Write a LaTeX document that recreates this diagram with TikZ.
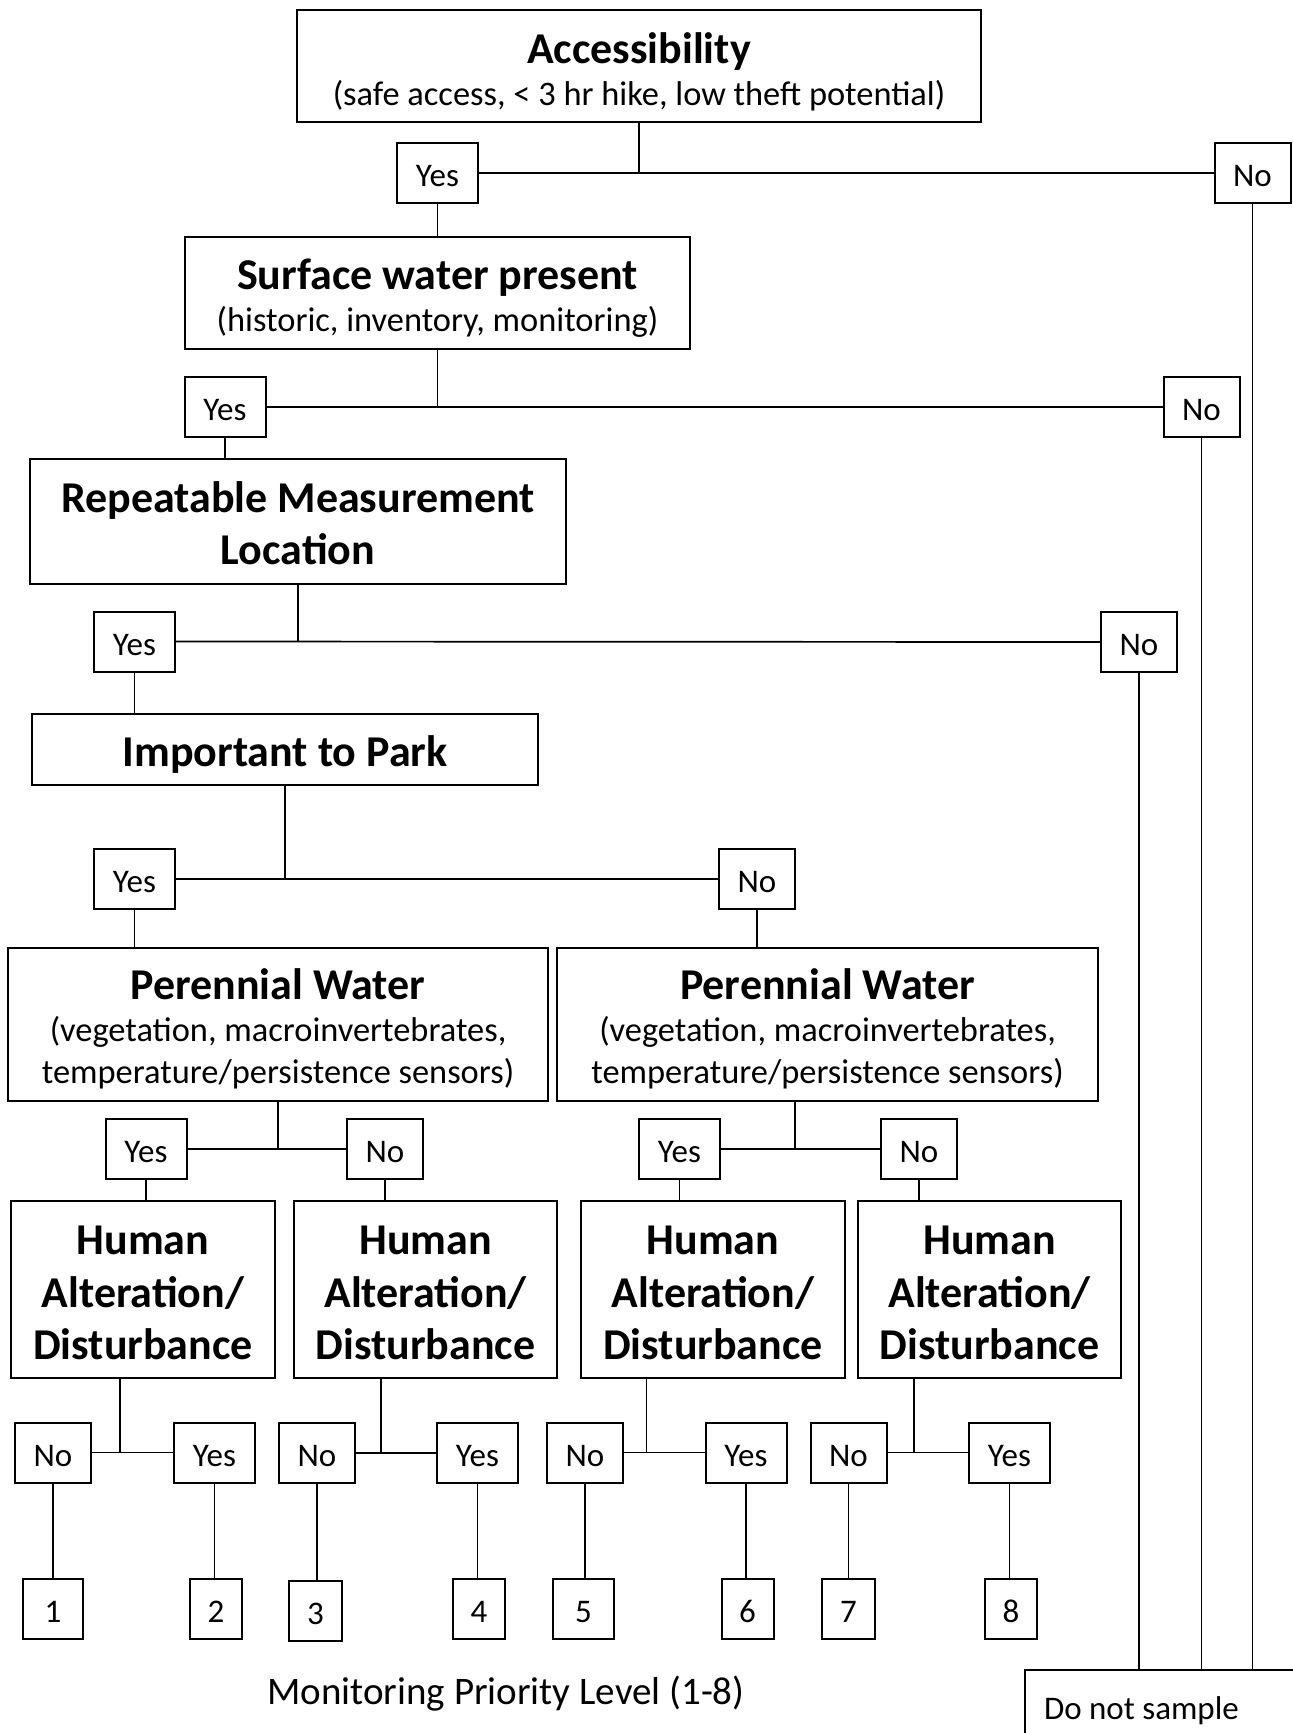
\documentclass[tikz,border=0pt]{standalone}
\usepackage{fontspec}
\setmainfont{Carlito}
\newcommand\bigb{\fontsize{44}{52.5}\selectfont\bfseries}
\newcommand\regf{\fontsize{34.4}{42}\selectfont}
\newcommand\ynf{\fontsize{33}{40}\selectfont}
\newcommand\mplf{\fontsize{39}{46}\selectfont}
\newcommand\strt[1]{\rule{0pt}{#1pt}}
\tikzset{
  box/.style={draw, line width=2pt, inner sep=0pt, align=center},
  yn/.style={draw, line width=2pt, minimum height=60pt, inner sep=0pt, font=\ynf,
             text height=27pt, text depth=0pt},
  yesbox/.style={yn, minimum width=81pt},
  nobox/.style={yn, minimum width=76pt},
  numbox/.style={yn},
  ln/.style={line width=1.7pt},
}
\begin{document}
\begin{tikzpicture}[x=1pt,y=-1pt]
\path[use as bounding box, fill=white] (0,0) rectangle (1293,1733);
\clip (0,0) rectangle (1293,1733);

% main boxes
\node[box, minimum width=684pt, minimum height=112pt, font=\regf] (acc) at (639,66)
  {{\bigb\strt{42}Accessibility}\\(safe access, < 3 hr hike, low theft potential)};
\node[box, minimum width=505pt, minimum height=112pt, font=\regf] (surf) at (437.5,293)
  {{\bigb\strt{41}Surface water present}\\(historic, inventory, monitoring)};
\node[box, minimum width=536pt, minimum height=125pt, font=\bigb] (rep) at (298,521.5)
  {\strt{34}Repeatable Measurement\\Location};
\node[box, minimum width=506pt, minimum height=71pt, font=\bigb] (imp) at (285,749.5)
  {\strt{41}Important to Park};
\node[box, minimum width=540pt, minimum height=153pt, font=\regf] (pw1) at (278,1024.5)
  {{\bigb\strt{40}Perennial Water}\\(vegetation, macroinvertebrates,\\temperature/persistence sensors)};
\node[box, minimum width=541pt, minimum height=153pt, font=\regf] (pw2) at (827.5,1024.5)
  {{\bigb\strt{40}Perennial Water}\\(vegetation, macroinvertebrates,\\temperature/persistence sensors)};
\node[box, minimum width=264pt, minimum height=177pt, font=\bigb] (ha1) at (143,1289.5)
  {\strt{36}Human\\Alteration/\\Disturbance};
\node[box, minimum width=263pt, minimum height=177pt, font=\bigb] (ha2) at (425.5,1289.5)
  {\strt{36}Human\\Alteration/\\Disturbance};
\node[box, minimum width=264pt, minimum height=177pt, font=\bigb] (ha3) at (713,1289.5)
  {\strt{36}Human\\Alteration/\\Disturbance};
\node[box, minimum width=263pt, minimum height=177pt, font=\bigb] (ha4) at (989.5,1289.5)
  {\strt{36}Human\\Alteration/\\Disturbance};

% yes / no boxes
\node[yesbox] (yes1) at (437.5,173) {Yes};
\node[nobox]  (no1)  at (1252.5,173) {No};
\node[yesbox] (yes2) at (225,407) {Yes};
\node[nobox]  (no2)  at (1201.5,407) {No};
\node[yesbox] (yes3) at (134.5,641.5) {Yes};
\node[nobox]  (no3)  at (1139,642) {No};
\node[yesbox] (yes4) at (134.5,879) {Yes};
\node[nobox]  (no4)  at (757,879) {No};
\node[yesbox] (yes5) at (146,1149) {Yes};
\node[nobox]  (no5)  at (385,1149) {No};
\node[yesbox] (yes6) at (679.5,1149) {Yes};
\node[nobox]  (no6)  at (919,1149) {No};
\node[nobox]  (no7)  at (53,1452.5) {No};
\node[yesbox] (yes7) at (214.5,1452.5) {Yes};
\node[nobox]  (no8)  at (317,1453) {No};
\node[yesbox] (yes8) at (477.5,1453) {Yes};
\node[nobox]  (no9)  at (585,1452.5) {No};
\node[yesbox] (yes9) at (746,1452.5) {Yes};
\node[nobox]  (no10) at (848.5,1452.5) {No};
\node[yesbox] (yes10) at (1009.5,1452.5) {Yes};

% priority numbers
\node[numbox, minimum width=60pt] (n1) at (53,1609) {1};
\node[numbox, minimum width=52pt] (n2) at (216,1609) {2};
\node[numbox, minimum width=53pt] (n3) at (315.5,1611) {3};
\node[numbox, minimum width=52pt] (n4) at (479,1609) {4};
\node[numbox, minimum width=61pt] (n5) at (583.5,1609) {5};
\node[numbox, minimum width=52pt] (n6) at (747.5,1609) {6};
\node[numbox, minimum width=53pt] (n7) at (848.5,1609) {7};
\node[numbox, minimum width=52pt] (n8) at (1011,1609) {8};

\node[font=\mplf] (mpl) at (506,1694) {Monitoring Priority Level (1-8)};
\node[draw, line width=2pt, anchor=north west, inner xsep=19pt, inner ysep=0pt,
      minimum height=82pt, font=\ynf] (dns) at (1024,1669) {\makebox[282pt][l]{Do not sample}};

% junction coordinates
\coordinate (j6) at (795,1149);
\coordinate (j7) at (120,1452.5);
\coordinate (j8) at (381,1453);
\coordinate (j9) at (646.5,1452.5);
\coordinate (j10) at (914,1452.5);

% connectors
\draw[ln] (acc.south) -- (acc.south |- yes1.east);
\draw[ln] (yes1.east) -- (no1.west);
\draw[ln] (yes1.south) -- (yes1.south |- surf.north);
\draw[ln] (surf.south) -- (surf.south |- yes2.east);
\draw[ln] (yes2.east) -- (no2.west);
\draw[ln] (yes2.south) -- (yes2.south |- rep.north);
\draw[ln] (rep.south) -- (rep.south |- yes3.east);
\draw[ln] (yes3.east) -- (no3.west);
\draw[ln] (yes3.south) -- (yes3.south |- imp.north);
\draw[ln] (imp.south) -- (imp.south |- yes4.east);
\draw[ln] (yes4.east) -- (no4.west);
\draw[ln] (yes4.south) -- (yes4.south |- pw1.north);
\draw[ln] (no4.south) -- (no4.south |- pw2.north);
\draw[ln] (pw1.south) -- (pw1.south |- yes5.east);
\draw[ln] (yes5.east) -- (no5.west);
\draw[ln] (j6 |- pw2.south) -- (j6);
\draw[ln] (yes6.east) -- (no6.west);
\draw[ln] (yes5.south) -- (yes5.south |- ha1.north);
\draw[ln] (no5.south) -- (no5.south |- ha2.north);
\draw[ln] (yes6.south) -- (yes6.south |- ha3.north);
\draw[ln] (no6.south) -- (no6.south |- ha4.north);
\draw[ln] (j7 |- ha1.south) -- (j7);
\draw[ln] (no7.east) -- (yes7.west);
\draw[ln] (j8 |- ha2.south) -- (j8);
\draw[ln] (no8.east) -- (yes8.west);
\draw[ln] (j9 |- ha3.south) -- (j9);
\draw[ln] (no9.east) -- (yes9.west);
\draw[ln] (j10 |- ha4.south) -- (j10);
\draw[ln] (no10.east) -- (yes10.west);
\draw[ln] (no7.south) -- (no7.south |- n1.north);
\draw[ln] (yes7.south) -- (yes7.south |- n2.north);
\draw[ln] (no8.south) -- (no8.south |- n3.north);
\draw[ln] (yes8.south) -- (yes8.south |- n4.north);
\draw[ln] (no9.south) -- (no9.south |- n5.north);
\draw[ln] (yes9.south) -- (yes9.south |- n6.north);
\draw[ln] (no10.south) -- (no10.south |- n7.north);
\draw[ln] (yes10.south) -- (yes10.south |- n8.north);
\draw[ln] (no3.south) -- (no3.south |- dns.north);
\draw[ln] (no2.south) -- (no2.south |- dns.north);
\draw[ln] (no1.south) -- (no1.south |- dns.north);
\end{tikzpicture}
\end{document}
